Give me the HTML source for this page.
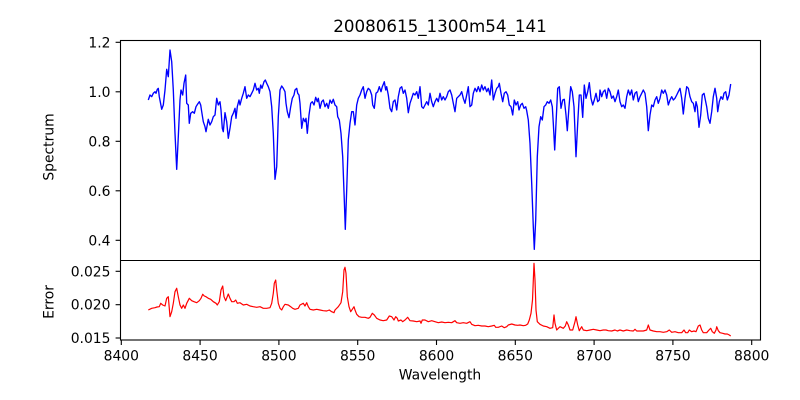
<!DOCTYPE html>
<html>
<head>
<meta charset="utf-8">
<style>
html,body{margin:0;padding:0;background:#fff;}
svg{display:block;}
text{font-family:"DejaVu Sans","Liberation Sans",sans-serif;fill:#000;}
</style>
</head>
<body>
<svg width="800" height="400" viewBox="0 0 800 400" xmlns="http://www.w3.org/2000/svg">
<rect x="0" y="0" width="800" height="400" fill="#fff"/>
<!-- title -->
<text x="440" y="32.2" font-size="16.7" text-anchor="middle">20080615_1300m54_141</text>

<!-- blue spectrum -->
<polyline fill="none" stroke="#0000ff" stroke-width="1.35" stroke-linejoin="round" points="148.3,100 150,95 151.7,96.7 153.3,93.3 155,91.7 156,93.3 157.3,89.3 158.3,88.3 159.3,96.7 161.7,109.3 163.3,105 165,90 166.7,69.3 168.3,76.7 170,50 171.7,61.7 173.3,90 175,133.3 176.7,169.3 178.3,136.7 180,100 181,90 182.7,95 184,83.3 185.7,75 186.7,103.3 188.3,105 189.3,123.3 190.7,113.3 192.7,111.7 194.3,113.3 196,106.7 197.7,104 199.3,101.7 200.7,105 201.7,111.7 203.3,121.7 205,126.7 206,131.7 208.3,119.3 210,125 211.7,121.7 213.3,116.7 215,115 216.7,98.3 218.3,105 220,101.7 221,110 222.3,128.3 223.3,131.7 225,112.7 226.7,121.7 228.3,138.3 230,128.3 231.7,116.7 233.3,113.3 235,108.3 236,118.3 237.3,106.7 239,100 240,105 241.7,98.3 243.3,93.3 245,86.7 246.7,98.3 248.3,95 250,96.7 251.7,93.3 253.3,90 255,83.3 256.7,90 258.3,88.3 259.3,93.3 260.7,85 262,88.3 264,81.7 265.3,80 266.7,83.3 268.3,86.7 270,91.7 271.7,106.7 273.3,133.3 275,179.3 276.7,166.7 278.3,116.7 280,90 281.7,86 283.3,88.3 285,91.7 286,103.3 287.3,111.7 289,117.7 290.7,106.7 292.3,98.3 294,95 295,90 296.7,88.3 297.7,93.3 299,95 300,103.3 301.7,128.3 303.3,118.3 305,121.7 306,118.3 307.3,133.3 309,115 310.7,103.3 312.3,101.7 314,105 315.7,97.3 317.3,101.7 318.3,98.3 320,108.3 321.7,101.7 323.3,100 325,106.7 326.7,103.3 328.3,108.3 330,100 331.7,103.3 333.3,99.3 335,105 336.7,106.7 337.7,116.7 339.3,120 341,133.3 342.7,156.7 344.3,200 345.3,229.3 346.7,190 348.3,140 350,123.3 351.7,111.7 353.3,111.7 355,125 356.7,105 358.3,98.3 360,95 361.7,90 363.3,86.7 365,98.3 366.7,91.7 368.3,88.3 370,90 371.7,95 372.7,105 374.3,108.3 376,93.3 377.7,91.7 379.3,86.7 381,91.7 382.3,86.7 384.3,81.7 385.7,90 386.7,86.7 388.3,95 390,108.3 391.7,111.7 393.3,101.7 395,100 396.7,110 398.3,96.7 400,88.3 401.7,86.7 403.3,93.3 405,90 406.7,98.3 408.3,112.7 410,103.3 411.7,98.3 413.3,93.3 415,95 416.7,91.7 418.3,98.3 420,86.7 421.7,106.7 423.3,108.3 425,105 426.7,101.7 428.3,105 430,93.3 431.7,101.7 433.3,106.7 435,101.7 436.7,98.3 438.3,101.7 440,93.3 441.7,100 443.3,96.7 445,100 446.7,96.7 448.3,91.7 450,90 451.7,95 453.3,103.3 455,111.7 456.7,98.3 458.3,96.7 460,95 461.7,91.7 463.3,98.3 465,103.3 466.7,95 468.3,86.7 470,106.7 471.7,105 473.3,93.3 475,88.3 476.7,91.7 478.3,86.7 480,91.7 481.7,85 483.3,90 485,86.7 486.7,91.7 488.3,88.3 490,95 491.7,80 493.3,100 495,93.3 496.7,88.3 498.3,86.7 499.3,83.3 501,93.3 502.7,101.7 504.3,93.3 506,91.7 507.7,95 509.3,105 511,106.7 512.7,115 514.3,100 516,105 517.7,101.7 519,110 520.7,105 522.3,103.3 524,108.3 525.7,106.7 526.7,110.7 528.3,120 530,143.3 531.7,183.3 533.3,226.7 534.3,249.3 535.7,220 537.3,156.7 539,126.7 540.7,116.7 542.3,120 544,106.7 545.7,105 547.3,101.7 549,103.3 550.7,100 552.3,106.7 553.3,123.3 554.7,150 556,123.3 557.7,88.3 559.3,86.7 561,108.3 562.7,100 564.3,99.3 566,115 567.3,130.7 569,106.7 570.7,86.7 572.3,91.7 574,106.7 576,156.7 577.7,123.3 579.3,95 581,95 582.7,117.3 584.3,85 586,98.3 587.7,91.7 589.3,82.7 591,98.3 592.7,105 594.3,100 596,93.3 597.7,101.7 599.3,100 600,90 601.7,96.7 603.3,91.7 605,90 606.7,98.3 608.3,88.3 610,91.7 611.7,98.3 613.3,96 615,101.7 616.7,96.7 618.3,90 620,101.7 621.7,106.7 623.3,105 625,108.3 626.7,96.7 628.3,90 630,95 631.7,90 633.3,100 635,93.3 636.7,91.7 638.3,101.7 640,96.7 641.7,93.3 643.3,90 645,93.3 646.7,106.7 648.3,130.7 650,115 651.7,105 653.3,106.7 655,100 656.7,96.7 658.3,103.3 660,98.3 661.7,90 663.3,93.3 665,90 666.7,95 668.3,105 670,100 671.7,96.7 673.3,100 675,98.3 676.7,95 678.3,91.7 680,88.3 681.7,98.3 683.3,114 685,98.3 686.7,86.7 688.3,88.3 690,96.7 691.7,101.7 693.3,103.3 695,111.7 696,101.7 697.3,106.7 699,127.3 700.7,115 702.3,95 704,93.3 705,98.3 706.7,106.7 708.3,118.3 710,123.3 711.7,111.7 713.3,96.7 715,88.3 716.7,98.3 717.7,111.7 719.3,101.7 721,96.7 722.7,99.3 724,93.3 725.7,91.7 727.3,100 729,95 730.7,84"/>

<!-- red error -->
<polyline fill="none" stroke="#ff0000" stroke-width="1.2" stroke-linejoin="round" points="148.3,310 151.7,308.3 155,307.7 157,307 159.3,306.7 160.7,303.3 162.7,305 165,306 166.7,298.3 168.3,296.7 170,316.7 171.7,311.7 173.3,303.3 175,291.7 176.7,288.3 178.3,296.7 180,305 181.7,308.3 183.3,305 185,308.3 186.7,303.3 189.3,298.3 191.7,300.7 194,301.7 196.7,302.7 199.3,300.7 201,298.3 202.7,294.3 204.3,296 206,296.7 208.3,298.3 210.7,299.3 213.3,301.7 216,303.3 217.3,305 219.3,301.7 221,290 222.7,286 224,296.7 225.7,300.7 228.3,294 230,298.3 231.7,301.7 234,301.7 235.7,300 237.3,303.3 240,302.7 243.3,305 246.7,304.3 250,306 253.3,306.7 256.7,307.3 260,306.7 263.3,308.3 266.7,308.3 270,307.7 271.7,303.3 273.3,293.3 274.3,283.3 275.7,280 276.7,290 278.3,303.3 280,308.3 281.7,310 283.3,306.7 285,304.3 288.3,305 290.7,306.7 292.7,308.3 295,309.3 298.3,308.3 300,305 303.3,303.3 305,306 306.7,302.7 308.3,306.7 310,309.3 313.3,310 316.7,309.3 320,310 323.3,310.7 326.7,311 329.3,310 331.7,311.7 334,312.7 335,310 338.3,306.7 341,302.7 342.7,291.7 344,270 345,267.3 346,273.3 347.3,296.7 349,306.7 350.7,311.7 352.3,309.3 354,306.7 355,310 356.7,314.3 359,316.7 361.7,317.3 365,317.3 368.3,318.3 370,317.3 372.3,313.3 374.3,315 376.7,318.3 380,320 383.3,320.7 386.7,320 389.3,316 391.7,316.7 394,320 395.7,316.7 397.3,318.3 398.3,321 401,320 402.7,321.7 405,320 407.7,317.3 410,320.7 413.3,321 416.7,321.7 420,321 421,323.3 422.3,320 425,320 428.3,321.7 431.7,320.7 435,321.7 438.3,322.7 441.7,322 445,322.7 448.3,322.3 451.7,322.7 455,320.7 456.7,322.7 460,323.3 463.3,322.7 466.7,323.3 470,321.7 471.7,324.3 475,325.7 478.3,325.3 481.7,326 485,326 488.3,326.7 491.7,326 494.3,325.3 495.7,327.3 498.3,327.3 501.7,326 504.3,327.7 506.7,326.7 508.3,325 511.7,324 515,325 517.7,325.3 520,325 523.3,325.7 525.7,325.3 527.7,324 529.3,320 531,313.3 532.5,300 533.2,283 534,263.3 535,280 536,310 537.3,321.7 540,324.3 543.3,326 546.7,326.7 550,328.3 552.7,327.7 554,315 555,323.3 556.7,330 558.3,328.3 560,326.7 563.3,328.3 565.3,326 566.7,321.7 568.3,325 570,330 572.7,330 575,321.7 576,316.7 577.7,325 579.3,330.7 581.7,326.7 583.3,330 586.7,330.7 590,330 593.3,329.3 596.7,330 600,330.7 603.3,330 606,330 608.3,330.7 611.7,331 615,330 617.3,331 620,330 623.3,331 626.7,330 630,330.7 633.3,331 635,329.3 636.7,331 640,331 643.3,331 646.7,330 648.3,325 650,330 653.3,331 656.7,331.7 660,331.7 663.3,332.3 666.7,331.7 669.3,330 671.7,332.3 675,331.7 678.3,332.7 681.7,332.7 684,330 685.7,332.7 687.7,332.7 689.3,330 691.7,331.7 694,331 696,331.7 698.3,326 700,325 701.7,330 703.3,332.7 706.7,332.7 709,330 710.7,328.3 712.3,331.7 714.3,333.3 716,330 716.7,326.7 718.3,330.7 720,332.7 722.7,333.3 725,334 727.3,334 729.3,335 730.7,336"/>

<!-- axes frames -->
<rect x="120.5" y="40.5" width="640" height="299.5" fill="none" stroke="#000" stroke-width="1.1"/>
<line x1="120.5" y1="260.5" x2="760.5" y2="260.5" stroke="#000" stroke-width="1.1"/>

<!-- top y ticks -->
<g stroke="#000" stroke-width="1.1">
<line x1="115.6" y1="42.3" x2="120.5" y2="42.3"/>
<line x1="115.6" y1="91.8" x2="120.5" y2="91.8"/>
<line x1="115.6" y1="141.3" x2="120.5" y2="141.3"/>
<line x1="115.6" y1="190.8" x2="120.5" y2="190.8"/>
<line x1="115.6" y1="240.3" x2="120.5" y2="240.3"/>
<!-- bottom y ticks -->
<line x1="115.6" y1="271.3" x2="120.5" y2="271.3"/>
<line x1="115.6" y1="304.7" x2="120.5" y2="304.7"/>
<line x1="115.6" y1="338.0" x2="120.5" y2="338.0"/>
<!-- x ticks -->
<line x1="121.3" y1="340" x2="121.3" y2="345"/>
<line x1="200.1" y1="340" x2="200.1" y2="345"/>
<line x1="278.9" y1="340" x2="278.9" y2="345"/>
<line x1="357.7" y1="340" x2="357.7" y2="345"/>
<line x1="436.5" y1="340" x2="436.5" y2="345"/>
<line x1="515.3" y1="340" x2="515.3" y2="345"/>
<line x1="594.1" y1="340" x2="594.1" y2="345"/>
<line x1="672.9" y1="340" x2="672.9" y2="345"/>
<line x1="751.7" y1="340" x2="751.7" y2="345"/>
</g>

<g font-size="13.9" text-anchor="end">
<text x="110.5" y="47.3">1.2</text>
<text x="110.5" y="96.8">1.0</text>
<text x="110.5" y="146.3">0.8</text>
<text x="110.5" y="195.8">0.6</text>
<text x="110.5" y="245.3">0.4</text>
<text x="110.5" y="276.3">0.025</text>
<text x="110.5" y="309.7">0.020</text>
<text x="110.5" y="343.0">0.015</text>
</g>

<g font-size="13.9" text-anchor="middle">
<text x="121.3" y="360.5">8400</text>
<text x="200.1" y="360.5">8450</text>
<text x="278.9" y="360.5">8500</text>
<text x="357.7" y="360.5">8550</text>
<text x="436.5" y="360.5">8600</text>
<text x="515.3" y="360.5">8650</text>
<text x="594.1" y="360.5">8700</text>
<text x="672.9" y="360.5">8750</text>
<text x="751.7" y="360.5">8800</text>
<text x="440" y="379.5">Wavelength</text>
<text transform="translate(53.3,147) rotate(-90)" x="0" y="0">Spectrum</text>
<text transform="translate(53.3,302) rotate(-90)" x="0" y="0">Error</text>
</g>
</svg>
</body>
</html>
